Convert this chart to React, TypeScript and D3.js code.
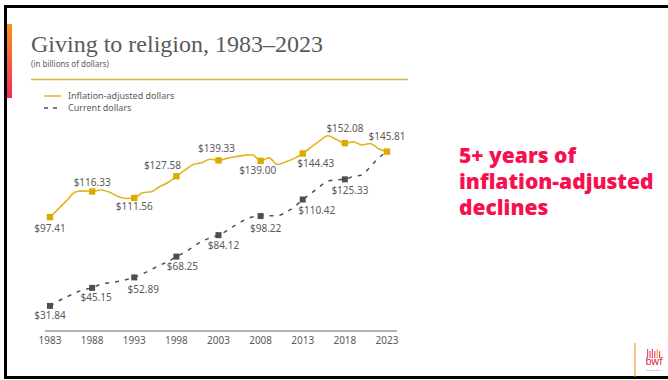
import React from "react";
import * as d3 from "d3";

const years: number[] = d3.range(1983, 2024);
const inflationAdjusted: number[] = [
  97.41, 103.5, 109.8, 116.0, 116.8, 116.33, 117.4, 115.9, 112.9, 111.2,
  111.56, 115.4, 116.1, 119.8, 123.0, 127.58, 132.1, 136.3, 137.5, 140.2,
  139.33, 140.8, 142.0, 143.0, 143.5, 139.0, 141.2, 136.3, 138.3, 140.8,
  144.43, 149.1, 153.8, 157.5, 154.8, 152.08, 153.0, 150.8, 151.8, 147.9,
  145.81,
];
const currentDollars: number[] = [
  31.84, 35.5, 38.5, 41.5, 44.0, 45.15, 47.8, 48.9, 49.9, 51.2,
  52.89, 55.5, 58.7, 61.8, 64.5, 68.25, 71.5, 75.5, 79.5, 82.0,
  84.12, 87.5, 91.5, 95.0, 97.5, 98.22, 98.5, 98.5, 101.0, 105.0,
  110.42, 115.0, 120.0, 124.0, 125.0, 125.33, 127.5, 128.5, 134.5, 141.0,
  145.81,
];
const tickYears: number[] = [1983, 1988, 1993, 1998, 2003, 2008, 2013, 2018, 2023];
const currentMarkerYears: number[] = [1983, 1988, 1993, 1998, 2003, 2008, 2013, 2018];

const title = "Giving to religion, 1983\u20132023";
const subtitle = "(in billions of dollars)";
const legendLabels = ["Inflation-adjusted dollars", "Current dollars"];
const annotationLines = ["5+ years of", "inflation-adjusted", "declines"];

// label offsets (layout, not data)
const goldLabelOffsets: [number, number][] = [
  [0, 11], [0, -9], [0, 9], [-14, -11], [-2, -12], [-3, 10], [13, 10], [0, -14.5], [0, -15],
];
const grayLabelOffsets: [number, number][] = [
  [0, 9.5], [4, 10], [9, 12], [6, 10], [5, 10], [5, 12], [14, 11], [5, 11],
];

const GOLD_LINE = "#e2b322";
const GOLD_MARK = "#ddaa00";
const GRAY = "#4f4f4f";
const TEXT = "#5a5a5a";
const SANS = "'Noto Sans', 'Open Sans', sans-serif";

export default function App() {
  const x = d3.scaleLinear().domain([1983, 2023]).range([50, 387]);
  const y = d3.scaleLinear().domain([0, 160]).range([349, 132.4]);

  const line = d3
    .line<number>()
    .x((_, i) => x(years[i]))
    .y((d) => y(d))
    .curve(d3.curveMonotoneX);

  const fmt = (v: number) => "$" + v.toFixed(2);
  const idx = (yr: number) => years.indexOf(yr);

  return (
    <div style={{ position: "absolute", left: 0, top: 0 }}>
      <svg width={668} height={380} style={{ display: "block", background: "#fff" }}>
        <defs>
          <linearGradient id="accent" x1="0" y1="0" x2="0" y2="1">
            <stop offset="0%" stopColor="#f7931e" />
            <stop offset="100%" stopColor="#ee2d5e" />
          </linearGradient>
        </defs>
        {/* frame */}
        <rect x={4} y={5} width={664} height={3} fill="#000" />
        <rect x={4} y={5} width={3} height={374} fill="#000" />
        <rect x={4} y={376} width={664} height={3} fill="#000" />
        {/* accent bar */}
        <rect x={7} y={24} width={5} height={74} fill="url(#accent)" />

        {/* title */}
        <text x={31} y={52} fontFamily="'Liberation Serif', 'DejaVu Serif', serif" fontSize={24} fill={TEXT}>
          {title}
        </text>
        <text x={31} y={67} fontFamily={SANS} fontSize={8} fill={TEXT}>
          {subtitle}
        </text>
        <line x1={31} x2={408} y1={79.5} y2={79.5} stroke="#d9b940" strokeWidth={1.5} />

        {/* legend */}
        <line x1={44} x2={61} y1={96} y2={96} stroke={GOLD_LINE} strokeWidth={1.5} />
        <text x={68} y={96} dy="0.35em" fontFamily={SANS} fontSize={9} fill={TEXT}>
          {legendLabels[0]}
        </text>
        <line x1={44} x2={61} y1={108} y2={108} stroke={GRAY} strokeWidth={1.5} strokeDasharray="4,5" />
        <text x={68} y={108} dy="0.35em" fontFamily={SANS} fontSize={9} fill={TEXT}>
          {legendLabels[1]}
        </text>

        {/* axis */}
        <line x1={45} x2={397} y1={331} y2={331} stroke="#666" strokeWidth={1} />
        {tickYears.map((t) => (
          <text key={t} x={x(t)} y={340} dy="0.35em" textAnchor="middle" fontFamily={SANS} fontSize={10} fill={TEXT}>
            {t}
          </text>
        ))}

        {/* current dollars */}
        <path d={line(currentDollars) || ""} fill="none" stroke={GRAY} strokeWidth={1.5} strokeDasharray="4,6" />
        {currentMarkerYears.map((yr, k) => {
          const v = currentDollars[idx(yr)];
          const [dx, dy] = grayLabelOffsets[k];
          return (
            <g key={yr}>
              <rect x={x(yr) - 3} y={y(v) - 3} width={6} height={6} fill={GRAY} />
              <text x={x(yr) + dx} y={y(v) + dy} dy="0.35em" textAnchor="middle" fontFamily={SANS} fontSize={10} fill={TEXT}>
                {fmt(v)}
              </text>
            </g>
          );
        })}

        {/* inflation-adjusted */}
        <path d={line(inflationAdjusted) || ""} fill="none" stroke={GOLD_LINE} strokeWidth={1.6} />
        {tickYears.map((yr, k) => {
          const v = inflationAdjusted[idx(yr)];
          const [dx, dy] = goldLabelOffsets[k];
          return (
            <g key={yr}>
              <rect x={x(yr) - 3.2} y={y(v) - 3.2} width={6.4} height={6.4} fill={GOLD_MARK} />
              <text x={x(yr) + dx} y={y(v) + dy} dy="0.35em" textAnchor="middle" fontFamily={SANS} fontSize={10} fill={TEXT}>
                {fmt(v)}
              </text>
            </g>
          );
        })}

        {/* annotation */}
        <text x={459} y={163} fontFamily="'Open Sans', sans-serif" fontWeight={800} fontSize={21} fill="#f7104f">
          {annotationLines.map((l, i) => (
            <tspan key={i} x={459} dy={i === 0 ? 0 : 26}>
              {l}
            </tspan>
          ))}
        </text>

        {/* logo */}
        <line x1={635} x2={635} y1={343} y2={377} stroke="#f08a24" strokeWidth={1} />
        {[0, 1, 2, 3, 4, 5].map((i) => (
          <rect key={i} x={647 + i * 2.4} y={i % 2 === 0 ? 349 : 351} width={1.2} height={i % 2 === 0 ? 9 : 7} fill={i === 4 ? "#f5a04a" : "#e8506e"} />
        ))}
        <text x={654} y={365} textAnchor="middle" fontFamily={SANS} fontSize={10} fill="#e0204e">
          bwf
        </text>
        <text x={654} y={371} textAnchor="middle" fontFamily={SANS} fontSize={2.5} fill="#888">
          DIGOS BWFF
        </text>
      </svg>
    </div>
  );
}
